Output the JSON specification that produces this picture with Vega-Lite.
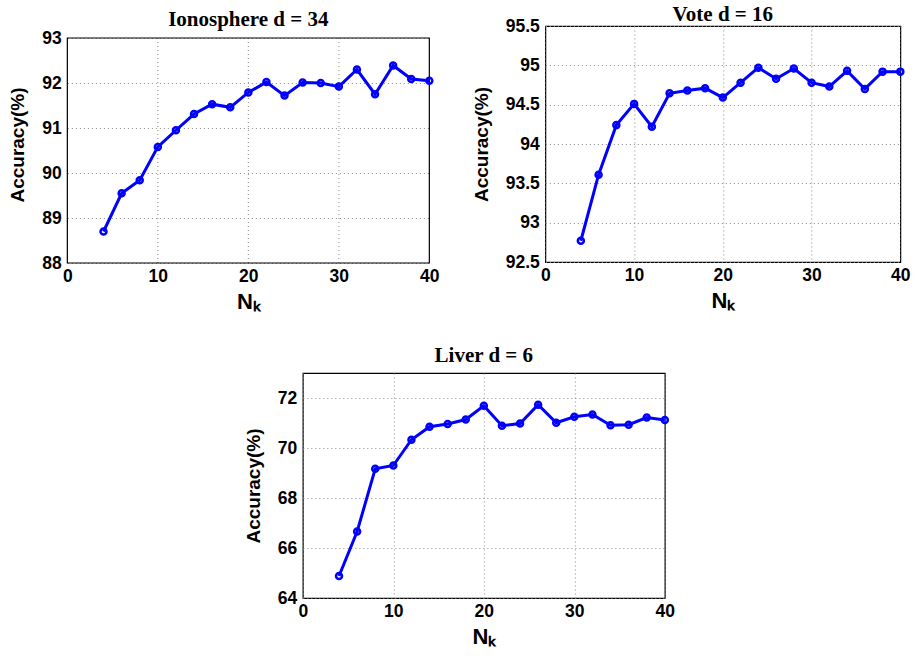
{
  "$schema": "https://vega.github.io/schema/vega-lite/v6.json",
  "background": "white",
  "padding": {"left": 8, "right": 2, "top": 3, "bottom": 0},
  "datasets": {
    "iono": [
      {"k": 4, "acc": 88.70}, {"k": 6, "acc": 89.55}, {"k": 8, "acc": 89.84}, {"k": 10, "acc": 90.58},
      {"k": 12, "acc": 90.95}, {"k": 14, "acc": 91.31}, {"k": 16, "acc": 91.53}, {"k": 18, "acc": 91.46},
      {"k": 20, "acc": 91.79}, {"k": 22, "acc": 92.02}, {"k": 24, "acc": 91.72}, {"k": 26, "acc": 92.01},
      {"k": 28, "acc": 92.00}, {"k": 30, "acc": 91.92}, {"k": 32, "acc": 92.30}, {"k": 34, "acc": 91.75},
      {"k": 36, "acc": 92.39}, {"k": 38, "acc": 92.09}, {"k": 40, "acc": 92.05}
    ],
    "vote": [
      {"k": 4, "acc": 92.77}, {"k": 6, "acc": 93.61}, {"k": 8, "acc": 94.24}, {"k": 10, "acc": 94.51},
      {"k": 12, "acc": 94.22}, {"k": 14, "acc": 94.645}, {"k": 16, "acc": 94.68}, {"k": 18, "acc": 94.71},
      {"k": 20, "acc": 94.59}, {"k": 22, "acc": 94.78}, {"k": 24, "acc": 94.97}, {"k": 26, "acc": 94.83},
      {"k": 28, "acc": 94.96}, {"k": 30, "acc": 94.78}, {"k": 32, "acc": 94.73}, {"k": 34, "acc": 94.93},
      {"k": 36, "acc": 94.70}, {"k": 38, "acc": 94.92}, {"k": 40, "acc": 94.92}
    ],
    "liver": [
      {"k": 4, "acc": 64.88}, {"k": 6, "acc": 66.66}, {"k": 8, "acc": 69.17}, {"k": 10, "acc": 69.30},
      {"k": 12, "acc": 70.33}, {"k": 14, "acc": 70.85}, {"k": 16, "acc": 70.96}, {"k": 18, "acc": 71.14},
      {"k": 20, "acc": 71.69}, {"k": 22, "acc": 70.89}, {"k": 24, "acc": 70.98}, {"k": 26, "acc": 71.73},
      {"k": 28, "acc": 71.01}, {"k": 30, "acc": 71.25}, {"k": 32, "acc": 71.34}, {"k": 34, "acc": 70.91},
      {"k": 36, "acc": 70.93}, {"k": 38, "acc": 71.22}, {"k": 40, "acc": 71.12}
    ],
    "ionoGrid": [{"g": 10}, {"g": 20}, {"g": 30}],
    "ionoFrame": [{"x0": 0, "x1": 40, "y0": 88, "y1": 93}]
  },
  "config": {
    "view": {"stroke": "black", "strokeWidth": 1.2},
    "axis": {
      "domain": false,
      "ticks": false,
      "grid": true,
      "gridColor": "#888888",
      "gridDash": [1, 3],
      "gridWidth": 1,
      "labelFont": "Liberation Sans",
      "labelFontWeight": "bold",
      "labelFontSize": 17.5,
      "labelColor": "black",
      "labelFlush": false,
      "labelOverlap": false,
      "titleFont": "Liberation Sans",
      "titleFontWeight": "bold",
      "titleColor": "black"
    },
    "axisX": {"labelPadding": 4, "titleFontSize": 22, "titlePadding": 7},
    "axisY": {"labelPadding": 6, "titleFontSize": 19, "titlePadding": 14},
    "title": {"font": "Liberation Serif", "fontWeight": "bold", "fontSize": 21, "color": "black", "anchor": "middle", "frame": "group", "baseline": "alphabetic"}
  },
  "vconcat": [
    {
      "hconcat": [
        {
          "title": {"text": "Ionosphere d = 34", "offset": -4},
          "width": 362,
          "height": 237,
          "view": {"stroke": null},
          "layer": [
            {
              "data": {"name": "ionoGrid"},
              "mark": {"type": "rule", "color": "#888888", "strokeDash": [1, 3], "strokeWidth": 1},
              "encoding": {
                "x": {"field": "g", "type": "quantitative", "scale": {"domain": [0, 40], "nice": false}, "axis": {"values": [0, 10, 20, 30, 40], "title": "Nₖ", "grid": false}},
                "y": {"datum": 88, "type": "quantitative", "scale": {"domain": [88, 93.2667], "nice": false, "zero": false}, "axis": {"values": [88, 89, 90, 91, 92, 93], "title": "Accuracy(%)", "format": "~g"}},
                "y2": {"datum": 93}
              }
            },
            {
              "data": {"name": "ionoFrame"},
              "mark": {"type": "rect", "filled": false, "color": "black", "strokeWidth": 1.2},
              "encoding": {
                "x": {"field": "x0", "type": "quantitative", "scale": {"domain": [0, 40], "nice": false}, "axis": {"values": [0, 10, 20, 30, 40], "title": "Nₖ", "grid": false}},
                "x2": {"field": "x1"},
                "y": {"field": "y0", "type": "quantitative", "scale": {"domain": [88, 93.2667], "nice": false, "zero": false}, "axis": {"values": [88, 89, 90, 91, 92, 93], "title": "Accuracy(%)", "format": "~g"}},
                "y2": {"field": "y1"}
              }
            },
            {
              "data": {"name": "iono"},
              "mark": {"type": "line", "color": "#0000ff", "strokeWidth": 3},
              "encoding": {
                "x": {"field": "k", "type": "quantitative", "scale": {"domain": [0, 40], "nice": false}, "axis": {"values": [0, 10, 20, 30, 40], "title": "Nₖ", "grid": false}},
                "y": {"field": "acc", "type": "quantitative", "scale": {"domain": [88, 93.2667], "nice": false, "zero": false}, "axis": {"values": [88, 89, 90, 91, 92, 93], "title": "Accuracy(%)", "format": "~g"}}
              }
            },
            {
              "data": {"name": "iono"},
              "mark": {"type": "point", "color": "#0000ff", "filled": false, "strokeWidth": 2.5, "size": 36, "opacity": 1},
              "encoding": {
                "x": {"field": "k", "type": "quantitative", "scale": {"domain": [0, 40], "nice": false}, "axis": {"values": [0, 10, 20, 30, 40], "title": "Nₖ", "grid": false}},
                "y": {"field": "acc", "type": "quantitative", "scale": {"domain": [88, 93.2667], "nice": false, "zero": false}, "axis": {"values": [88, 89, 90, 91, 92, 93], "title": "Accuracy(%)", "format": "~g"}}
              }
            }
          ]
        },
        {
          "title": {"text": "Vote d = 16", "offset": -8},
          "width": 355,
          "height": 236,
          "data": {"name": "vote"},
          "layer": [
            {"mark": {"type": "line", "color": "#0000ff", "strokeWidth": 3}},
            {"mark": {"type": "point", "color": "#0000ff", "filled": false, "strokeWidth": 2.5, "size": 36, "opacity": 1}}
          ],
          "encoding": {
            "x": {"field": "k", "type": "quantitative", "scale": {"domain": [0, 40], "nice": false}, "axis": {"values": [0, 10, 20, 30, 40], "title": "Nₖ"}},
            "y": {"field": "acc", "type": "quantitative", "scale": {"domain": [92.5, 95.5], "nice": false, "zero": false}, "axis": {"values": [92.5, 93, 93.5, 94, 94.5, 95, 95.5], "title": "Accuracy(%)", "format": "~g"}}
          }
        }
      ],
      "spacing": 32
    },
    {
      "title": {"text": "Liver d = 6", "offset": 7},
      "width": 362,
      "height": 225,
      "data": {"name": "liver"},
      "layer": [
        {"mark": {"type": "line", "color": "#0000ff", "strokeWidth": 3}},
        {"mark": {"type": "point", "color": "#0000ff", "filled": false, "strokeWidth": 2.5, "size": 36, "opacity": 1}}
      ],
      "encoding": {
        "x": {"field": "k", "type": "quantitative", "scale": {"domain": [0, 40], "nice": false}, "axis": {"values": [0, 10, 20, 30, 40], "title": "Nₖ"}},
        "y": {"field": "acc", "type": "quantitative", "scale": {"domain": [64, 73], "nice": false, "zero": false}, "axis": {"values": [64, 66, 68, 70, 72], "title": "Accuracy(%)", "format": "~g"}}
      }
    }
  ],
  "spacing": 31,
  "center": true
}
